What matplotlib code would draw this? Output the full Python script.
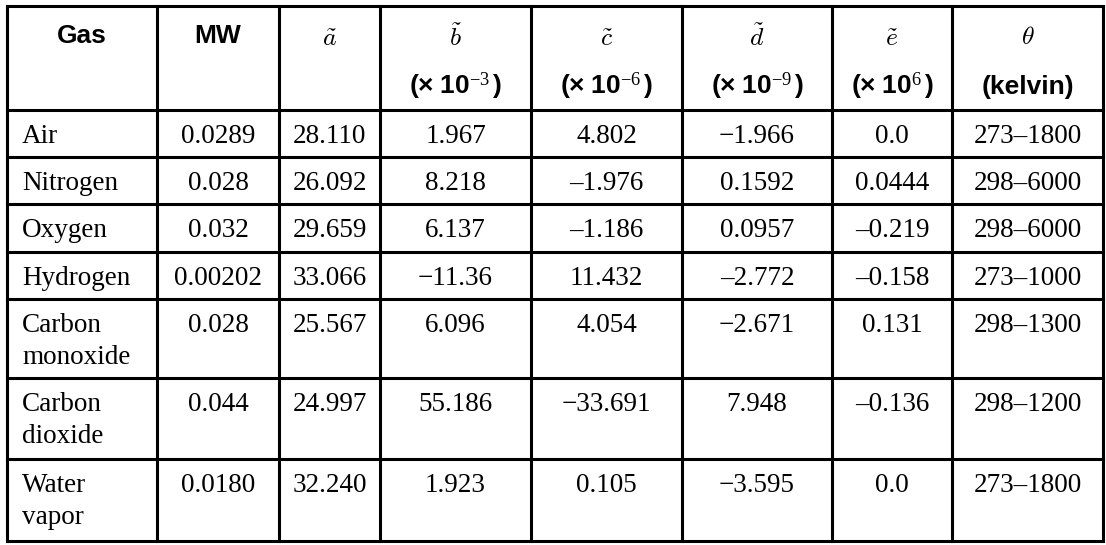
import matplotlib
matplotlib.use("Agg")
import matplotlib.pyplot as plt

# ---- data ----
gases = ["Air", "Nitrogen", "Oxygen", "Hydrogen", "Carbon\nmonoxide", "Carbon\ndioxide", "Water\nvapor"]
mw = ["0.0289", "0.028", "0.032", "0.00202", "0.028", "0.044", "0.0180"]
a_vals = ["28.110", "26.092", "29.659", "33.066", "25.567", "24.997", "32.240"]
b_vals = ["1.967", "8.218", "6.137", "\u221211.36", "6.096", "55.186", "1.923"]
c_vals = ["4.802", "\u20131.976", "\u20131.186", "11.432", "4.054", "\u221233.691", "0.105"]
d_vals = ["\u22121.966", "0.1592", "0.0957", "\u20132.772", "\u22122.671", "7.948", "\u22123.595"]
e_vals = ["0.0", "0.0444", "\u20130.219", "\u20130.158", "0.131", "\u20130.136", "0.0"]
theta_vals = ["273\u20131800", "298\u20136000", "298\u20136000", "273\u20131000",
              "298\u20131300", "298\u20131200", "273\u20131800"]

head_text = ["Gas", "MW"]
head_math = [r"$\tilde{a}$", r"$\tilde{b}$", r"$\tilde{c}$", r"$\tilde{d}$", r"$\tilde{e}$", r"$\theta$"]
unit_exps = ["-3", "-6", "-9", "6"]
unit_last = "(kelvin)"

plt.rcParams["mathtext.fontset"] = "custom"
plt.rcParams["mathtext.bf"] = "Liberation Sans:bold"
plt.rcParams["mathtext.rm"] = "Liberation Serif"
plt.rcParams["mathtext.it"] = "Liberation Serif:italic"

W, H = 1106, 545
fig = plt.figure(figsize=(W / 100, H / 100), dpi=100)
ax = fig.add_axes([0, 0, 1, 1])
ax.set_xlim(0, W)
ax.set_ylim(H, 0)
ax.axis("off")

# layout (pixels)
xs = [7, 157, 279, 380, 531, 682, 832, 952, 1103]
ys = [6, 110, 157, 204, 252, 299, 378, 459, 541]

lw = 2.2
for x in xs:
    ax.plot([x, x], [ys[0], ys[-1]], color="black", lw=lw, solid_capstyle="projecting")
for y in ys:
    ax.plot([xs[0], xs[-1]], [y, y], color="black", lw=lw, solid_capstyle="projecting")

centers = [(xs[i] + xs[i + 1]) / 2 for i in range(len(xs) - 1)]

# header
hfont = dict(family="Liberation Sans", weight="bold", size=19)
for i, t in enumerate(head_text):
    ax.text(centers[i], 43, t, ha="center", va="baseline", **hfont)
for j, t in enumerate(head_math):
    yb = 46 if j < 5 else 44
    ax.text(centers[2 + j], yb, t, ha="center", va="baseline", size=18.5, math_fontfamily="cm")
for j, ex in enumerate(unit_exps):
    s = r"$\mathbf{(\times\ 10}^{\mathrm{" + ex + r"}}\,\mathbf{)}$"
    ax.text(centers[3 + j], 94, s, ha="center", va="baseline", size=19)
ax.text(centers[7], 94, unit_last, ha="center", va="baseline", **hfont)

# body
bfont = dict(family="Liberation Serif", size=19.5)
cols = [mw, a_vals, b_vals, c_vals, d_vals, e_vals, theta_vals]
for r in range(len(gases)):
    top = ys[r + 1]
    for k, line in enumerate(gases[r].split("\n")):
        ax.text(22, top + 33 + 32 * k, line, ha="left", va="baseline", **bfont)
    for c, col in enumerate(cols):
        ax.text(centers[c + 1], top + 33, col[r], ha="center", va="baseline", **bfont)

fig.savefig("out.png", dpi=100, facecolor="white")
